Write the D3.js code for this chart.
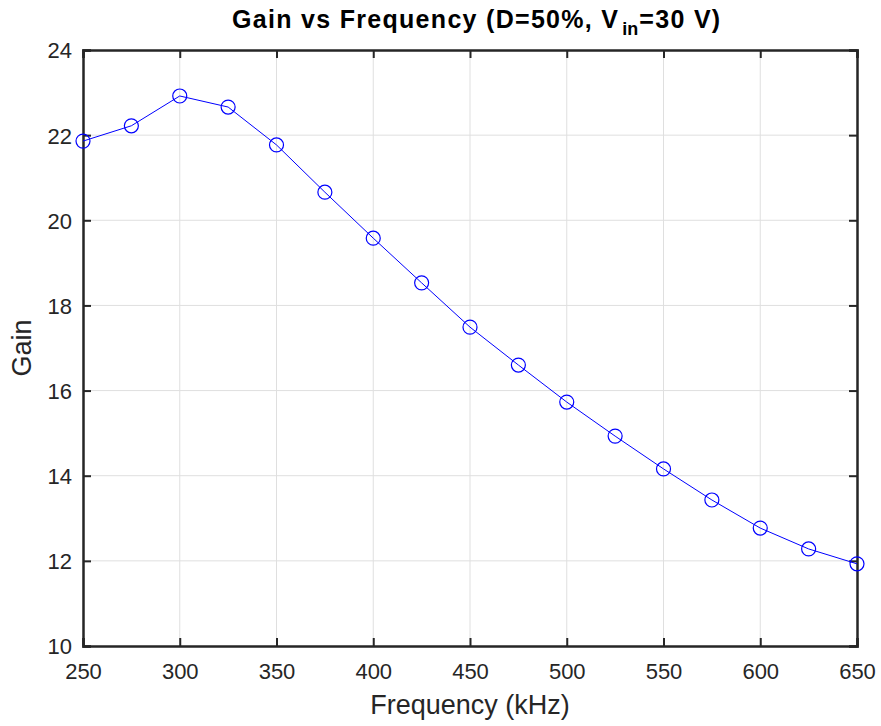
<!DOCTYPE html>
<html><head><meta charset="utf-8">
<script src="https://cdn.jsdelivr.net/npm/d3@7"></script>
<style>body{margin:0;background:#fff}</style>
</head><body>
<svg id="c" width="881" height="726"></svg>
<script>
const freq = [250,275,300,325,350,375,400,425,450,475,500,525,550,575,600,625,650];
const gain = [21.86,22.22,22.92,22.66,21.77,20.66,19.58,18.53,17.49,16.60,15.73,14.93,14.16,13.43,12.77,12.28,11.93];
const xTicks = [250,300,350,400,450,500,550,600,650];
const yTicks = [10,12,14,16,18,20,22,24];

const svg = d3.select("#c");
const L=83,R=857,T=50,B=646;
const x = d3.scaleLinear().domain([250,650]).range([L,R]);
const y = d3.scaleLinear().domain([10,24]).range([B,T]);
const ax = "#262626", font = "Liberation Sans, Arial, sans-serif";

// grid
svg.append("g").selectAll("line").data(xTicks.slice(1,-1)).join("line")
  .attr("x1",d=>x(d)).attr("x2",d=>x(d)).attr("y1",T).attr("y2",B)
  .attr("stroke","#dfdfdf").attr("stroke-width",1);
svg.append("g").selectAll("line").data(yTicks.slice(1,-1)).join("line")
  .attr("y1",d=>y(d)).attr("y2",d=>y(d)).attr("x1",L).attr("x2",R)
  .attr("stroke","#dfdfdf").attr("stroke-width",1);

// axes
const xb = svg.append("g").attr("transform",`translate(0,${B})`)
  .call(d3.axisBottom(x).tickValues(xTicks).tickSize(-8).tickFormat(d3.format("d")));
const xt = svg.append("g").attr("transform",`translate(0,${T})`)
  .call(d3.axisTop(x).tickValues(xTicks).tickSize(-8).tickFormat(""));
const yl = svg.append("g").attr("transform",`translate(${L},0)`)
  .call(d3.axisLeft(y).tickValues(yTicks).tickSize(-8).tickFormat(d3.format("d")));
const yr = svg.append("g").attr("transform",`translate(${R},0)`)
  .call(d3.axisRight(y).tickValues(yTicks).tickSize(-8).tickFormat(""));
[xb,xt,yl,yr].forEach(g=>{
  g.selectAll("path").attr("stroke",ax).attr("stroke-width",2.5);
  g.selectAll("line").attr("stroke",ax).attr("stroke-width",2);
  g.selectAll("text").attr("fill",ax).style("font-family",font).style("font-size","22px");
});
xb.selectAll("text").attr("y",33).attr("dy",0);
yl.selectAll("text").attr("x",-11).attr("dy","0.36em");

// line
svg.append("path").datum(freq.map((f,i)=>[f,gain[i]]))
  .attr("fill","none").attr("stroke","#0000ff").attr("stroke-width",1)
  .attr("d",d3.line().x(d=>x(d[0])).y(d=>y(d[1])));
svg.append("g").selectAll("circle").data(freq.map((f,i)=>[f,gain[i]])).join("circle")
  .attr("cx",d=>x(d[0])).attr("cy",d=>y(d[1])).attr("r",7)
  .attr("fill","none").attr("stroke","#0000ff").attr("stroke-width",1.2);

// labels
svg.append("text").attr("x",(L+R)/2).attr("y",714).attr("text-anchor","middle")
  .attr("fill",ax).style("font-family",font).style("font-size","27px").text("Frequency (kHz)");
svg.append("text").attr("transform",`translate(31,${(T+B)/2}) rotate(-90)`).attr("text-anchor","middle")
  .attr("fill",ax).style("font-family",font).style("font-size","27px").text("Gain");
const t = svg.append("text").attr("x",232).attr("y",28)
  .attr("fill","#000").style("font-family",font).style("font-size","25px").style("font-weight","bold")
  .style("letter-spacing","1.3px");
t.append("tspan").text("Gain vs Frequency (D=50%, V");
t.append("tspan").attr("dx",3).attr("dy",7).style("font-size","18px").style("letter-spacing","0px").text("in");
t.append("tspan").attr("dx",1).attr("dy",-7).text("=30 V)");
</script>
</body></html>
